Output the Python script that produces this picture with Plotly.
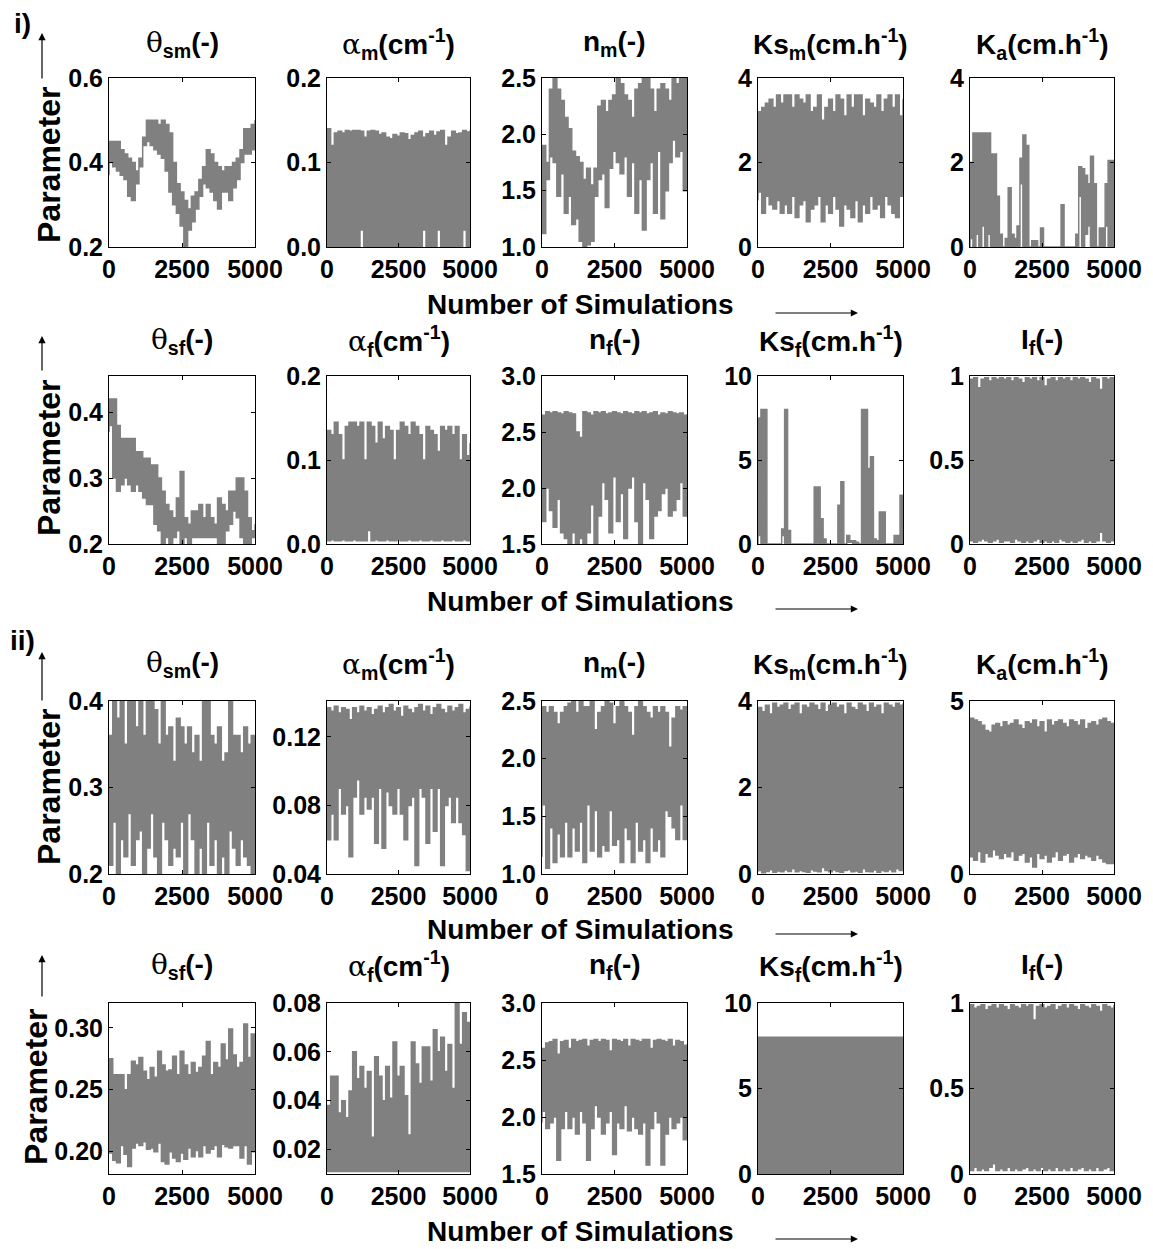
import plotly.graph_objects as go

# ----------------------------------------------------------------------------
# DATA (upper / lower envelope of each chain,
# sampled at evenly spaced simulation numbers between 0 and 5000)
# ----------------------------------------------------------------------------
sim_ticks = [0, 2500, 5000]
sim_tick_labels = ["0", "2500", "5000"]

# ---- case i), matrix row --------------------------------------------------
theta_sm_i_hi = [0.45, 0.45, 0.45, 0.43, 0.42, 0.41, 0.40, 0.38, 0.41, 0.46, 0.50, 0.50, 0.50, 0.49, 0.50, 0.49, 0.47, 0.40, 0.35, 0.33,
                 0.31, 0.29, 0.32, 0.33, 0.36, 0.39, 0.43, 0.42, 0.40, 0.39, 0.38, 0.39, 0.39, 0.40, 0.41, 0.43, 0.48, 0.48, 0.49, 0.50]
theta_sm_i_lo = [0.37, 0.40, 0.39, 0.38, 0.37, 0.36, 0.32, 0.31, 0.35, 0.39, 0.44, 0.45, 0.44, 0.43, 0.42, 0.41, 0.38, 0.33, 0.30, 0.28,
                 0.25, 0.20, 0.24, 0.26, 0.29, 0.32, 0.35, 0.34, 0.33, 0.31, 0.29, 0.33, 0.33, 0.31, 0.34, 0.36, 0.40, 0.42, 0.42, 0.43]

alpha_m_i_hi = [0.140, 0.120, 0.135, 0.137, 0.135, 0.138, 0.137, 0.138, 0.138, 0.137, 0.130, 0.137, 0.138, 0.137, 0.133, 0.135, 0.130, 0.128, 0.133, 0.131,
                0.135, 0.134, 0.127, 0.132, 0.135, 0.137, 0.130, 0.134, 0.137, 0.132, 0.136, 0.138, 0.120, 0.130, 0.137, 0.134, 0.135, 0.138, 0.136, 0.138]
alpha_m_i_lo = [0.0, 0.0, 0.0, 0.0, 0.0, 0.0, 0.0, 0.0, 0.0, 0.0, 0.02, 0.0, 0.0, 0.0, 0.0, 0.0, 0.0, 0.0, 0.0, 0.0,
                0.0, 0.0, 0.0, 0.0, 0.0, 0.0, 0.0, 0.02, 0.0, 0.0, 0.0, 0.02, 0.0, 0.0, 0.0, 0.0, 0.0, 0.0, 0.02, 0.0]

n_m_i_hi = [1.90, 1.75, 2.40, 2.50, 2.40, 2.30, 2.15, 2.05, 1.85, 1.80, 1.75, 1.60, 1.70, 1.55, 1.70, 2.25, 2.30, 2.20, 2.30, 2.35,
            2.50, 2.45, 2.35, 2.30, 2.15, 2.40, 2.45, 2.50, 2.50, 2.40, 2.20, 2.40, 2.45, 2.40, 2.30, 2.50, 2.45, 2.50, 2.50, 2.50]
n_m_i_lo = [1.15, 1.12, 1.60, 1.80, 1.75, 1.45, 1.65, 1.30, 1.45, 1.20, 1.25, 1.05, 1.00, 1.02, 1.05, 1.45, 1.60, 1.65, 1.35, 1.70,
            1.85, 1.75, 1.65, 1.80, 1.45, 1.75, 1.30, 1.60, 1.15, 1.60, 1.75, 1.30, 1.85, 1.25, 1.50, 1.75, 1.95, 1.80, 1.85, 1.50]

ks_m_i_hi = [3.2, 3.3, 3.4, 3.5, 3.3, 3.6, 3.4, 3.6, 3.6, 3.3, 3.6, 3.5, 3.4, 3.6, 3.2, 3.3, 3.6, 3.0, 3.3, 3.5,
             3.2, 3.6, 3.5, 3.1, 3.6, 3.3, 3.6, 3.6, 3.1, 3.5, 3.4, 3.3, 3.6, 3.2, 3.5, 3.6, 3.3, 3.6, 3.1, 3.5]
ks_m_i_lo = [1.1, 1.3, 0.8, 1.2, 1.0, 0.9, 1.1, 0.8, 1.0, 0.8, 1.2, 0.7, 1.0, 1.1, 0.6, 0.9, 1.0, 1.2, 0.6, 1.0,
             0.8, 1.2, 0.9, 0.5, 1.0, 0.9, 0.7, 1.1, 0.6, 1.0, 0.8, 1.2, 0.9, 1.0, 0.7, 1.2, 1.0, 0.8, 0.7, 1.2]

k_a_i_hi = [2.0, 2.7, 2.7, 2.7, 2.7, 2.7, 2.7, 2.2, 2.2, 1.2, 0.3, 0.0, 0.2, 1.4, 0.3, 0.2, 0.0, 2.1, 2.65, 2.4,
            0.0, 0.15, 0.15, 0.0, 0.45, 0.0, 0.0, 0.0, 0.0, 0.0, 0.0, 1.0, 0.0, 0.0, 0.0, 0.0, 0.0, 1.9, 1.85, 1.7,
            1.5, 2.15, 1.5, 0.0, 0.45, 0.45, 1.5, 2.05, 2.05, 2.0]
k_a_i_lo = [0.0, 0.2, 0.0, 0.3, 0.0, 0.5, 0.0, 0.3, 0.0, 0.0, 0.0, 0.0, 0.0, 0.0, 0.0, 0.0, 0.0, 0.5, 1.5, 0.0,
            0.0, 0.0, 0.0, 0.0, 0.0, 0.0, 0.0, 0.0, 0.0, 0.0, 0.0, 0.0, 0.0, 0.0, 0.0, 0.0, 0.0, 0.3, 1.2, 0.0,
            0.3, 0.5, 0.0, 0.0, 0.0, 0.0, 0.0, 0.5, 0.0, 0.0]

# ---- case i), fracture row ------------------------------------------------
theta_sf_i_hi = [0.42, 0.42, 0.38, 0.36, 0.36, 0.36, 0.36, 0.34, 0.34, 0.33, 0.33, 0.32, 0.32, 0.30, 0.28, 0.26, 0.25, 0.24, 0.27, 0.31,
                 0.24, 0.23, 0.25, 0.25, 0.26, 0.24, 0.26, 0.24, 0.23, 0.27, 0.26, 0.25, 0.28, 0.28, 0.30, 0.30, 0.28, 0.24, 0.22, 0.23]
theta_sf_i_lo = [0.37, 0.38, 0.30, 0.28, 0.29, 0.30, 0.29, 0.28, 0.29, 0.28, 0.27, 0.26, 0.26, 0.23, 0.22, 0.20, 0.21, 0.20, 0.21, 0.22,
                 0.20, 0.21, 0.20, 0.21, 0.21, 0.21, 0.21, 0.21, 0.21, 0.21, 0.20, 0.20, 0.22, 0.23, 0.25, 0.24, 0.21, 0.20, 0.20, 0.21]

alpha_f_i_hi = [0.135, 0.130, 0.145, 0.130, 0.100, 0.140, 0.145, 0.145, 0.140, 0.145, 0.100, 0.145, 0.140, 0.120, 0.145, 0.125, 0.140, 0.135, 0.100, 0.135,
                0.145, 0.140, 0.130, 0.145, 0.140, 0.130, 0.100, 0.140, 0.135, 0.130, 0.110, 0.140, 0.135, 0.140, 0.130, 0.140, 0.100, 0.130, 0.105, 0.120]
alpha_f_i_lo = [0.004, 0.004, 0.005, 0.004, 0.004, 0.005, 0.004, 0.004, 0.005, 0.004, 0.004, 0.004, 0.016, 0.004, 0.005, 0.004, 0.004, 0.005, 0.004, 0.004,
                0.005, 0.004, 0.004, 0.005, 0.004, 0.004, 0.005, 0.004, 0.004, 0.005, 0.004, 0.004, 0.005, 0.004, 0.004, 0.005, 0.004, 0.004, 0.005, 0.004]

n_f_i_hi = [2.65, 2.68, 2.67, 2.68, 2.67, 2.66, 2.68, 2.67, 2.66, 2.50, 2.45, 2.68, 2.67, 2.65, 2.68, 2.67, 2.68, 2.66, 2.67, 2.68,
            2.67, 2.66, 2.68, 2.67, 2.66, 2.68, 2.67, 2.68, 2.66, 2.67, 2.68, 2.65, 2.67, 2.66, 2.68, 2.67, 2.66, 2.67, 2.65, 2.66]
n_f_i_lo = [2.00, 1.70, 2.00, 1.80, 1.65, 1.90, 1.60, 1.55, 1.50, 1.60, 1.50, 1.55, 1.50, 1.60, 1.85, 1.50, 1.75, 2.05, 1.90, 1.60,
            2.10, 1.70, 1.95, 1.55, 2.00, 2.10, 1.70, 1.50, 2.05, 1.90, 1.55, 1.75, 1.80, 1.95, 2.00, 1.75, 1.80, 1.90, 2.05, 1.75]

ks_f_i_hi = [7.5, 8.0, 8.0, 0.0, 0.0, 0.0, 0.0, 0.0, 0.9, 8.0, 0.8, 0.0, 0.0, 0.0, 0.0, 0.0, 0.0, 0.0, 0.0, 3.4,
             3.4, 1.5, 0.3, 0.0, 0.0, 0.0, 0.0, 2.3, 3.7, 0.0, 0.5, 0.2, 0.2, 0.1, 0.0, 8.0, 8.0, 4.5, 5.2, 0.3,
             0.2, 1.9, 1.9, 0.0, 0.0, 0.0, 0.5, 0.5, 2.9, 2.9]
ks_f_i_lo = [0.0, 0.5, 0.0, 0.0, 0.0, 0.0, 0.0, 0.0, 0.0, 0.5, 0.0, 0.0, 0.0, 0.0, 0.0, 0.0, 0.0, 0.0, 0.0, 0.0,
             0.0, 0.0, 0.0, 0.0, 0.0, 0.0, 0.0, 0.0, 0.0, 0.0, 0.0, 0.1, 0.1, 0.0, 0.0, 0.0, 0.0, 0.0, 0.0, 0.0,
             0.0, 0.0, 0.0, 0.0, 0.0, 0.0, 0.0, 0.0, 0.0, 0.0]

i_f_i_hi = [0.98, 0.99, 0.93, 0.98, 0.99, 0.97, 0.99, 0.98, 0.99, 0.98, 0.99, 0.97, 0.99, 0.98, 0.96, 0.99, 0.98, 0.99, 0.97, 0.99,
            0.94, 0.98, 0.99, 0.97, 0.99, 0.98, 0.99, 0.97, 0.99, 0.98, 0.99, 0.98, 0.96, 0.99, 0.98, 0.92, 0.99, 0.98, 0.99, 0.97]
i_f_i_lo = [0.03, 0.02, 0.01, 0.02, 0.03, 0.02, 0.01, 0.02, 0.03, 0.01, 0.02, 0.02, 0.01, 0.03, 0.02, 0.01, 0.02, 0.01, 0.02, 0.03,
            0.01, 0.02, 0.01, 0.02, 0.01, 0.03, 0.02, 0.01, 0.02, 0.01, 0.02, 0.03, 0.01, 0.02, 0.01, 0.02, 0.07, 0.02, 0.01, 0.02]

# ---- case ii), matrix row -------------------------------------------------
theta_sm_ii_hi = [0.36, 0.40, 0.38, 0.40, 0.35, 0.40, 0.40, 0.37, 0.40, 0.36, 0.40, 0.40, 0.39, 0.35, 0.40, 0.36, 0.37, 0.33, 0.38, 0.37,
                  0.35, 0.37, 0.34, 0.36, 0.33, 0.40, 0.40, 0.36, 0.35, 0.37, 0.33, 0.34, 0.40, 0.36, 0.36, 0.34, 0.37, 0.35, 0.36, 0.35]
theta_sm_ii_lo = [0.22, 0.21, 0.26, 0.20, 0.24, 0.22, 0.27, 0.21, 0.24, 0.25, 0.20, 0.23, 0.27, 0.22, 0.20, 0.26, 0.24, 0.21, 0.23, 0.22,
                  0.26, 0.20, 0.27, 0.24, 0.20, 0.23, 0.20, 0.26, 0.21, 0.24, 0.20, 0.22, 0.20, 0.25, 0.23, 0.21, 0.24, 0.22, 0.21, 0.20]

alpha_m_ii_hi = [0.137, 0.135, 0.138, 0.134, 0.137, 0.136, 0.130, 0.137, 0.134, 0.138, 0.135, 0.137, 0.133, 0.136, 0.138, 0.134, 0.137, 0.139, 0.135, 0.137,
                 0.132, 0.138, 0.136, 0.134, 0.137, 0.139, 0.135, 0.138, 0.133, 0.137, 0.139, 0.136, 0.134, 0.138, 0.135, 0.137, 0.139, 0.134, 0.136, 0.138]
alpha_m_ii_lo = [0.088, 0.060, 0.075, 0.060, 0.090, 0.075, 0.080, 0.050, 0.085, 0.095, 0.075, 0.085, 0.078, 0.085, 0.058, 0.090, 0.055, 0.088, 0.080, 0.075,
                 0.090, 0.075, 0.060, 0.080, 0.085, 0.045, 0.090, 0.085, 0.058, 0.090, 0.065, 0.090, 0.045, 0.080, 0.085, 0.070, 0.085, 0.070, 0.063, 0.042]

n_m_ii_hi = [2.45, 2.40, 2.45, 2.40, 2.30, 2.40, 2.45, 2.48, 2.50, 2.40, 2.50, 2.45, 2.45, 2.50, 2.25, 2.40, 2.45, 2.50, 2.48, 2.30,
             2.45, 2.50, 2.45, 2.40, 2.20, 2.45, 2.50, 2.45, 2.40, 2.35, 2.45, 2.40, 2.45, 2.40, 2.10, 2.35, 2.45, 2.42, 2.45, 2.40]
n_m_ii_lo = [1.15, 1.60, 1.05, 1.40, 1.10, 1.35, 1.15, 1.45, 1.15, 1.40, 1.20, 1.45, 1.10, 1.60, 1.20, 1.55, 1.15, 1.25, 1.20, 1.55,
             1.25, 1.30, 1.10, 1.40, 1.30, 1.10, 1.45, 1.20, 1.30, 1.10, 1.40, 1.20, 1.30, 1.15, 1.55, 1.50, 1.40, 1.30, 1.60, 1.30]

ks_m_ii_hi = [3.85, 3.75, 3.90, 3.70, 3.95, 3.85, 3.90, 3.95, 3.80, 3.90, 3.95, 3.70, 3.90, 3.85, 3.95, 3.90, 3.80, 3.95, 3.75, 3.90,
              3.95, 3.85, 3.90, 3.70, 3.95, 3.85, 3.80, 3.95, 3.90, 3.75, 3.95, 3.85, 3.90, 3.70, 3.95, 3.90, 3.85, 3.95, 3.90, 3.95]
ks_m_ii_lo = [0.05, 0.08, 0.03, 0.06, 0.10, 0.04, 0.07, 0.05, 0.09, 0.06, 0.12, 0.05, 0.08, 0.06, 0.04, 0.10, 0.07, 0.05, 0.15, 0.08,
              0.05, 0.09, 0.06, 0.04, 0.08, 0.10, 0.05, 0.07, 0.04, 0.12, 0.06, 0.05, 0.09, 0.04, 0.08, 0.06, 0.10, 0.05, 0.12, 0.08]

k_a_ii_hi = [4.50, 4.45, 4.40, 4.30, 4.15, 4.10, 4.30, 4.35, 4.25, 4.40, 4.30, 4.35, 4.45, 4.30, 4.20, 4.40, 4.35, 4.45, 4.25, 4.40,
             4.10, 4.45, 4.30, 4.40, 4.45, 4.35, 4.25, 4.45, 4.40, 4.30, 4.45, 4.20, 4.35, 4.40, 4.30, 4.45, 4.50, 4.40, 4.35, 4.10]
k_a_ii_lo = [0.70, 0.50, 0.40, 0.65, 0.35, 0.60, 0.50, 0.70, 0.55, 0.45, 0.60, 0.50, 0.65, 0.40, 0.55, 0.60, 0.35, 0.50, 0.20, 0.60,
             0.45, 0.55, 0.35, 0.50, 0.65, 0.40, 0.55, 0.60, 0.35, 0.50, 0.60, 0.45, 0.55, 0.50, 0.40, 0.55, 0.45, 0.35, 0.30, 0.30]

# ---- case ii), fracture row -----------------------------------------------
theta_sf_ii_hi = [0.275, 0.262, 0.262, 0.262, 0.250, 0.262, 0.273, 0.270, 0.276, 0.265, 0.258, 0.268, 0.260, 0.281, 0.270, 0.265, 0.266, 0.277, 0.262, 0.281,
                  0.270, 0.262, 0.272, 0.264, 0.268, 0.277, 0.289, 0.262, 0.272, 0.268, 0.287, 0.274, 0.299, 0.278, 0.268, 0.272, 0.303, 0.276, 0.295, 0.280]
theta_sf_ii_lo = [0.204, 0.199, 0.193, 0.191, 0.205, 0.198, 0.188, 0.203, 0.207, 0.205, 0.208, 0.202, 0.203, 0.200, 0.207, 0.192, 0.190, 0.200, 0.195, 0.192,
                  0.199, 0.194, 0.203, 0.196, 0.201, 0.196, 0.205, 0.199, 0.202, 0.205, 0.196, 0.206, 0.204, 0.203, 0.205, 0.205, 0.195, 0.205, 0.190, 0.200]

alpha_f_ii_hi = [0.038, 0.050, 0.050, 0.035, 0.040, 0.033, 0.044, 0.060, 0.049, 0.054, 0.045, 0.052, 0.025, 0.058, 0.050, 0.040, 0.054, 0.041, 0.064, 0.050,
                 0.054, 0.042, 0.026, 0.064, 0.055, 0.047, 0.062, 0.062, 0.048, 0.069, 0.060, 0.066, 0.052, 0.063, 0.045, 0.080, 0.063, 0.076, 0.072, 0.049]
alpha_f_ii_lo = [0.011, 0.011, 0.011, 0.011, 0.011, 0.011, 0.011, 0.011, 0.011, 0.011, 0.011, 0.011, 0.011, 0.011, 0.011, 0.011, 0.011, 0.011, 0.011, 0.011,
                 0.011, 0.011, 0.011, 0.011, 0.011, 0.011, 0.011, 0.011, 0.011, 0.011, 0.011, 0.011, 0.011, 0.011, 0.011, 0.011, 0.011, 0.011, 0.011, 0.011]

n_f_ii_hi = [2.60, 2.65, 2.66, 2.68, 2.55, 2.66, 2.67, 2.60, 2.68, 2.66, 2.67, 2.68, 2.62, 2.67, 2.68, 2.66, 2.68, 2.67, 2.58, 2.68,
             2.67, 2.66, 2.68, 2.62, 2.68, 2.67, 2.66, 2.68, 2.68, 2.60, 2.67, 2.68, 2.67, 2.66, 2.68, 2.62, 2.67, 2.66, 2.63, 2.62]
n_f_ii_lo = [1.95, 2.05, 1.90, 1.95, 2.00, 1.62, 1.90, 2.05, 1.90, 2.00, 1.85, 2.05, 1.95, 1.62, 1.90, 2.10, 2.00, 1.85, 1.95, 2.05,
             1.67, 1.95, 1.90, 2.10, 1.88, 2.00, 1.90, 1.85, 1.95, 1.58, 1.90, 2.05, 1.95, 1.58, 1.85, 2.00, 1.90, 1.95, 2.00, 1.80]

ks_f_ii_hi = [8.0, 8.0]
ks_f_ii_lo = [0.0, 0.0]

i_f_ii_hi = [0.99, 0.97, 0.98, 0.99, 0.96, 0.98, 0.99, 0.97, 0.99, 0.98, 0.96, 0.99, 0.98, 0.97, 0.99, 0.98, 0.99, 0.90, 0.98, 0.99,
             0.97, 0.98, 0.99, 0.96, 0.98, 0.99, 0.97, 0.99, 0.98, 0.96, 0.99, 0.98, 0.97, 0.99, 0.98, 0.95, 0.99, 0.98, 0.97, 0.99]
i_f_ii_lo = [0.03, 0.02, 0.04, 0.02, 0.03, 0.02, 0.04, 0.06, 0.02, 0.03, 0.02, 0.04, 0.02, 0.03, 0.02, 0.03, 0.04, 0.02, 0.03, 0.02,
             0.04, 0.02, 0.03, 0.02, 0.04, 0.02, 0.03, 0.02, 0.04, 0.02, 0.03, 0.04, 0.02, 0.03, 0.02, 0.04, 0.02, 0.03, 0.04, 0.02]

# ---- y-axis ranges and tick labels ------------------------------------------
y_ranges = [
    [0.2, 0.6], [0.0, 0.2], [1.0, 2.5], [0.0, 4.0], [0.0, 4.0],
    [0.2, 0.455], [0.0, 0.2], [1.5, 3.0], [0.0, 10.0], [0.0, 1.0],
    [0.2, 0.4], [0.04, 0.141], [1.0, 2.5], [0.0, 4.0], [0.0, 5.0],
    [0.182, 0.32], [0.01, 0.08], [1.5, 3.0], [0.0, 10.0], [0.0, 1.0],
]
y_tick_values = [
    [0.2, 0.4, 0.6], [0.0, 0.1, 0.2], [1.0, 1.5, 2.0, 2.5], [0, 2, 4], [0, 2, 4],
    [0.2, 0.3, 0.4], [0.0, 0.1, 0.2], [1.5, 2.0, 2.5, 3.0], [0, 5, 10], [0, 0.5, 1],
    [0.2, 0.3, 0.4], [0.04, 0.08, 0.12], [1.0, 1.5, 2.0, 2.5], [0, 2, 4], [0, 5],
    [0.20, 0.25, 0.30], [0.02, 0.04, 0.06, 0.08], [1.5, 2.0, 2.5, 3.0], [0, 5, 10], [0, 0.5, 1],
]
y_tick_labels = [
    ["0.2", "0.4", "0.6"], ["0.0", "0.1", "0.2"], ["1.0", "1.5", "2.0", "2.5"], ["0", "2", "4"], ["0", "2", "4"],
    ["0.2", "0.3", "0.4"], ["0.0", "0.1", "0.2"], ["1.5", "2.0", "2.5", "3.0"], ["0", "5", "10"], ["0", "0.5", "1"],
    ["0.2", "0.3", "0.4"], ["0.04", "0.08", "0.12"], ["1.0", "1.5", "2.0", "2.5"], ["0", "2", "4"], ["0", "5"],
    ["0.20", "0.25", "0.30"], ["0.02", "0.04", "0.06", "0.08"], ["1.5", "2.0", "2.5", "3.0"], ["0", "5", "10"], ["0", "0.5", "1"],
]

# ----------------------------------------------------------------------------
# TEXT
# ----------------------------------------------------------------------------
def greek(ch):
    return "<span style='font-family:DejaVu Serif;font-weight:normal'>" + ch + "</span>"

titles_matrix = [greek("θ") + "<sub>sm</sub>(-)", greek("α") + "<sub>m</sub>(cm<sup>-1</sup>)",
                 "n<sub>m</sub>(-)", "Ks<sub>m</sub>(cm.h<sup>-1</sup>)", "K<sub>a</sub>(cm.h<sup>-1</sup>)"]
titles_fracture = [greek("θ") + "<sub>sf</sub>(-)", greek("α") + "<sub>f</sub>(cm<sup>-1</sup>)",
                   "n<sub>f</sub>(-)", "Ks<sub>f</sub>(cm.h<sup>-1</sup>)", "I<sub>f</sub>(-)"]
panel_titles = titles_matrix + titles_fracture + titles_matrix + titles_fracture

series = [
    (theta_sm_i_hi, theta_sm_i_lo), (alpha_m_i_hi, alpha_m_i_lo), (n_m_i_hi, n_m_i_lo), (ks_m_i_hi, ks_m_i_lo), (k_a_i_hi, k_a_i_lo),
    (theta_sf_i_hi, theta_sf_i_lo), (alpha_f_i_hi, alpha_f_i_lo), (n_f_i_hi, n_f_i_lo), (ks_f_i_hi, ks_f_i_lo), (i_f_i_hi, i_f_i_lo),
    (theta_sm_ii_hi, theta_sm_ii_lo), (alpha_m_ii_hi, alpha_m_ii_lo), (n_m_ii_hi, n_m_ii_lo), (ks_m_ii_hi, ks_m_ii_lo), (k_a_ii_hi, k_a_ii_lo),
    (theta_sf_ii_hi, theta_sf_ii_lo), (alpha_f_ii_hi, alpha_f_ii_lo), (n_f_ii_hi, n_f_ii_lo), (ks_f_ii_hi, ks_f_ii_lo), (i_f_ii_hi, i_f_ii_lo),
]

# ----------------------------------------------------------------------------
# LAYOUT  (pixel positions in the page; the page body adds an 8 px margin)
# ----------------------------------------------------------------------------
W, H = 1153, 1249
PAGE_OFFSET = 8
COLS = [(109, 255), (327, 470), (542, 687), (758, 903), (970, 1114)]
ROWS = [(78, 247), (376, 544), (701, 874), (1003, 1174)]
TITLE_Y = [44, 341, 664, 966]
XLABEL_Y = [305, 602, 929, 1231]
ARROW_Y = [313, 609, 934, 1239]
PARAM_X = [49, 49, 49, 36]
PARAM_Y = [165, 458, 787, 1087]
UPARROW = [(33, 80), (336, 372), (652, 702), (955, 998)]
GRAY = "rgb(128,128,128)"
FONT = "Liberation Sans, Arial, sans-serif"


def px(x):
    return (x - PAGE_OFFSET) / W


def py(y):
    return 1 - (y - PAGE_OFFSET) / H


fig = go.Figure()
layout = dict(width=W, height=H, margin=dict(l=0, r=0, t=0, b=0, pad=0, autoexpand=False),
              autosize=False, paper_bgcolor="white", plot_bgcolor="white", showlegend=False)
annotations = []

for k, (hi, lo) in enumerate(series):
    r, c = divmod(k, 5)
    n = len(hi)
    xs = [5000 * i / (n - 1) for i in range(n)]
    ax = "" if k == 0 else str(k + 1)
    fig.add_trace(go.Scatter(
        x=xs + xs[::-1], y=hi + lo[::-1], mode="lines",
        line=dict(color=GRAY, width=1.5, shape="hv"),
        fill="toself", fillcolor=GRAY, hoverinfo="skip",
        xaxis="x" + ax, yaxis="y" + ax))
    x0, x1 = COLS[c]
    y0, y1 = ROWS[r]
    common = dict(showline=True, linecolor="black", linewidth=1, mirror="ticks",
                  ticks="inside", ticklen=4, tickcolor="black", showgrid=False,
                  zeroline=False, tickangle=0, automargin=False,
                  tickfont=dict(family=FONT, size=25, color="black", weight="bold"))
    layout["xaxis" + ax] = dict(domain=[px(x0), px(x1)], anchor="y" + ax, range=[0, 5000],
                                tickvals=sim_ticks, ticktext=sim_tick_labels, **common)
    layout["yaxis" + ax] = dict(domain=[py(y1), py(y0)], anchor="x" + ax, range=y_ranges[k],
                                tickvals=y_tick_values[k], ticktext=y_tick_labels[k], **common)
    annotations.append(dict(x=px((x0 + x1) / 2), y=py(TITLE_Y[r]), xref="paper", yref="paper",
                            text=panel_titles[k], showarrow=False, xanchor="center", yanchor="middle",
                            font=dict(family=FONT, size=28, color="black", weight="bold")))

for r in range(4):
    annotations.append(dict(x=px(580), y=py(XLABEL_Y[r]), xref="paper", yref="paper",
                            text="Number of Simulations", showarrow=False, xanchor="center", yanchor="middle",
                            font=dict(family=FONT, size=28, color="black", weight="bold")))
    annotations.append(dict(x=px(858), y=py(ARROW_Y[r]), xref="paper", yref="paper", text="",
                            showarrow=True, ax=-84, ay=0, arrowhead=2, arrowsize=1.2, arrowwidth=1.2,
                            arrowcolor="black"))
    annotations.append(dict(x=px(PARAM_X[r]), y=py(PARAM_Y[r]), xref="paper", yref="paper",
                            text="Parameter", textangle=-90, showarrow=False, xanchor="center", yanchor="middle",
                            font=dict(family=FONT, size=32, color="black", weight="bold")))
    ua, ub = UPARROW[r]
    annotations.append(dict(x=px(42), y=py(ua), xref="paper", yref="paper", text="",
                            showarrow=True, ax=0, ay=ub - ua, arrowhead=2, arrowsize=1.2, arrowwidth=1.2,
                            arrowcolor="black"))

annotations.append(dict(x=px(22), y=py(24), xref="paper", yref="paper", text="i)", showarrow=False,
                        xanchor="center", yanchor="middle",
                        font=dict(family=FONT, size=28, color="black", weight="bold")))
annotations.append(dict(x=px(22), y=py(640), xref="paper", yref="paper", text="ii)", showarrow=False,
                        xanchor="center", yanchor="middle",
                        font=dict(family=FONT, size=28, color="black", weight="bold")))

layout["annotations"] = annotations
fig.update_layout(**layout)
fig.write_html("out.html")
